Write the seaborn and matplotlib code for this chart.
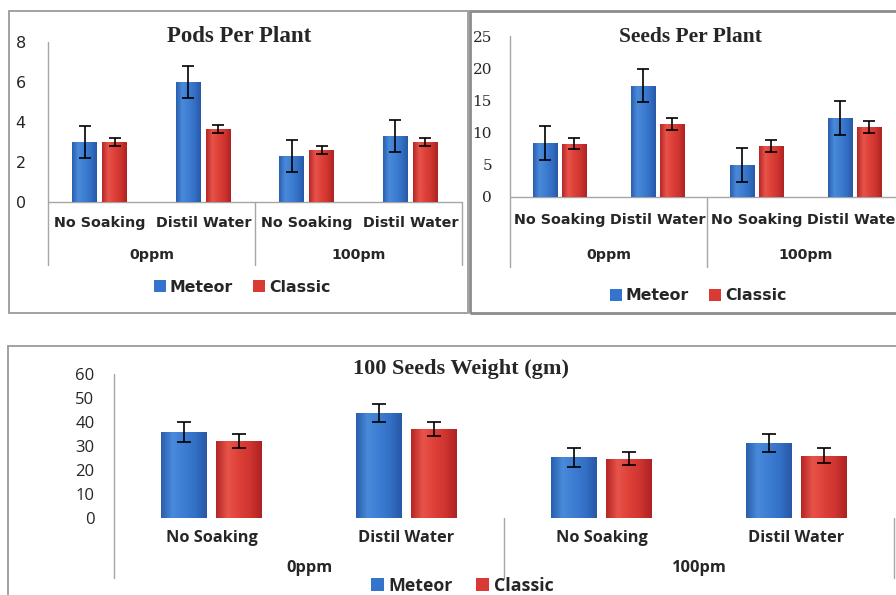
import numpy as np
import pandas as pd
import matplotlib
matplotlib.use("Agg")
import matplotlib.pyplot as plt
import matplotlib.transforms as mtransforms
from matplotlib.colors import LinearSegmentedColormap
from matplotlib.patches import Rectangle
import seaborn as sns

# ---- data -------------------------------------------------------------
treatments = ["No Soaking", "Distil Water", "No Soaking", "Distil Water"]
concentrations = ["0ppm", "100pm"]
varieties = ["Meteor", "Classic"]

pods_meteor = [3.0, 6.0, 2.3, 3.3]
pods_classic = [3.0, 3.65, 2.6, 3.0]
pods_meteor_err = [0.8, 0.8, 0.8, 0.8]
pods_classic_err = [0.2, 0.18, 0.2, 0.2]

seeds_meteor = [8.4, 17.3, 5.0, 12.3]
seeds_classic = [8.3, 11.3, 7.9, 10.9]
seeds_meteor_err = [2.6, 2.6, 2.6, 2.6]
seeds_classic_err = [0.9, 0.9, 0.9, 0.9]

weight_meteor = [35.8, 43.7, 25.3, 31.4]
weight_classic = [32.2, 37.1, 24.7, 26.0]
weight_meteor_err = [4.0, 3.8, 4.0, 3.8]
weight_classic_err = [2.9, 2.8, 2.6, 3.0]

# ---- style ------------------------------------------------------------
sns.set_style("white")
plt.rcParams["font.family"] = ["DejaVu Sans"]

W, H = 896, 595
fig = plt.figure(figsize=(W / 100, H / 100), dpi=100, facecolor="white")

BLUE = "#3474CC"
RED = "#D93A34"
blue_cmap = LinearSegmentedColormap.from_list(
    "meteor", ["#2A5EAE", "#4A8ADA", "#3D7ED3", "#3370C6", "#2858A6"])
red_cmap = LinearSegmentedColormap.from_list(
    "classic", ["#B52626", "#E8544A", "#DE4038", "#CF3530", "#AE2222"])
GRID = "#A6A6A6"


def fig_xy(x, y):
    return x / W, 1 - y / H


def make_axes(x0, x1, y0, ytop):
    l, b = fig_xy(x0, y0)
    return fig.add_axes([l, b, (x1 - x0) / W, (y0 - ytop) / H])


def panel_border(x0, y0, x1, y1, lw=1.3, color="#9A9A9A"):
    l, b = fig_xy(x0, y1)
    fig.patches.append(Rectangle((l, b), (x1 - x0) / W, (y1 - y0) / H,
                                 transform=fig.transFigure, fill=False,
                                 lw=lw, edgecolor=color, zorder=0))


def draw_panel(ax, meteor, classic, m_err, c_err, ymax, ystep, pix,
               tick_font, label_font, title, title_xy, title_size, label_y,
               group_y, line_bottom, legend_xy, width, gap, capsize,
               xaxis_line=True):
    keys = [f"{c}|{t}" for c, t in zip(np.repeat(concentrations, 2), treatments)]
    df = pd.DataFrame({
        "treatment": keys * 2,
        "variety": np.repeat(varieties, 4),
        "value": meteor + classic,
    })
    sns.barplot(data=df, x="treatment", y="value", hue="variety",
                order=keys, hue_order=varieties, palette=[BLUE, RED],
                saturation=1, width=width, gap=gap, errorbar=None, ax=ax,
                edgecolor="none", linewidth=0)

    bar_sets = [list(ax.containers[0]), list(ax.containers[1])]
    grad = np.linspace(0, 1, 64).reshape(1, -1)
    for bars, cmap, errs in zip(bar_sets, [blue_cmap, red_cmap], [m_err, c_err]):
        xs, ys = [], []
        for bar in bars:
            x, w, h = bar.get_x(), bar.get_width(), bar.get_height()
            im = ax.imshow(grad, extent=[x, x + w, 0, h], cmap=cmap,
                           aspect="auto", zorder=bar.get_zorder() + 0.1,
                           interpolation="bicubic")
            im.set_clip_path(bar)
            xs.append(x + w / 2)
            ys.append(h)
        ax.errorbar(xs, ys, yerr=errs, fmt="none", ecolor="black",
                    elinewidth=1.2, capsize=capsize, capthick=1.2, zorder=5)

    ax.set_xlim(-0.5, 3.5)
    ax.set_ylim(0, ymax)
    ticks = np.arange(0, ymax + 0.01, ystep)
    ax.set_yticks(ticks)
    ax.set_yticklabels([f"{v:g}" for v in ticks], **tick_font)
    ax.tick_params(axis="y", length=0, pad=pix)
    ax.set_xticks([])
    ax.set_xlabel("")
    ax.set_ylabel("")
    for s in ax.spines.values():
        s.set_visible(False)
    ax.set_facecolor("none")

    trans = mtransforms.blended_transform_factory(ax.transData, ax.transAxes)
    # vertical axis and group dividers reaching down into the label area
    for xv, ytop in [(-0.5, 1.0), (1.5, 0.0), (3.5, 0.0)]:
        ax.plot([xv, xv], [line_bottom, ytop], transform=trans, color=GRID,
                lw=1.0, clip_on=False, zorder=1)
    if xaxis_line:
        ax.plot([-0.5, 3.5], [0, 0], transform=trans, color=GRID, lw=1.0,
                clip_on=False, zorder=1)

    for i, t in enumerate(treatments):
        ax.text(i, label_y, t, transform=trans, ha="center", va="center",
                clip_on=False, **label_font)
    for j, c in enumerate(concentrations):
        ax.text(0.5 + 2 * j, group_y, c, transform=trans, ha="center",
                va="center", clip_on=False, **label_font)

    fx, fy = fig_xy(*title_xy)
    fig.text(fx, fy, title, ha="center", va="center",
             family="Liberation Serif", weight="bold", size=title_size)

    sns.move_legend(ax, "center", bbox_to_anchor=legend_xy, ncol=2,
                    frameon=False, title=None, handlelength=0.75,
                    handleheight=0.75, handletextpad=0.25,
                    columnspacing=1.3,
                    prop=dict(family=label_font["family"], weight="bold",
                              size=label_font["size"] + 1))


# panel frames
panel_border(9, 11, 468, 313)
panel_border(470, 11, 910, 313, lw=2.0, color="#8C8C8C")
panel_border(8, 346, 910, 610)

# Pods per plant
ax1 = make_axes(48, 462, 202, 42)
draw_panel(ax1, pods_meteor, pods_classic, pods_meteor_err, pods_classic_err,
           8, 2, 16,
           tick_font=dict(family="DejaVu Sans", size=11.5),
           label_font=dict(family="DejaVu Sans", weight="bold", size=10.3),
           title="Pods Per Plant", title_xy=(239, 37), title_size=16.5,
           label_y=(202 - 223) / 160, group_y=(202 - 255) / 160,
           line_bottom=(202 - 265) / 160,
           legend_xy=((242 - 48) / 414, (202 - 287) / 160),
           width=0.58, gap=0.17, capsize=4)

# Seeds per plant
ax2 = make_axes(510, 904, 197, 36)
draw_panel(ax2, seeds_meteor, seeds_classic, seeds_meteor_err, seeds_classic_err,
           25, 5, 13,
           tick_font=dict(family="DejaVu Serif", size=11),
           label_font=dict(family="DejaVu Sans", weight="bold", size=10.3),
           title="Seeds Per Plant", title_xy=(690, 37), title_size=15.5,
           label_y=(197 - 220) / 161, group_y=(197 - 255) / 161,
           line_bottom=(197 - 267) / 161,
           legend_xy=((698 - 510) / 394, (197 - 296) / 161),
           width=0.59, gap=0.17, capsize=4)

# 100 seeds weight
ax3 = make_axes(114, 894, 518, 374)
draw_panel(ax3, weight_meteor, weight_classic, weight_meteor_err, weight_classic_err,
           60, 10, 14,
           tick_font=dict(family="Open Sans", size=12),
           label_font=dict(family="Open Sans", weight="bold", size=11.8),
           title="100 Seeds Weight (gm)", title_xy=(461, 369), title_size=16,
           label_y=(518 - 538) / 144, group_y=(518 - 568) / 144,
           line_bottom=(518 - 578) / 144,
           legend_xy=((462 - 114) / 780, (518 - 586) / 144),
           width=0.565, gap=0.18, capsize=5, xaxis_line=False)

fig.savefig("out.png", dpi=100, facecolor="white")
